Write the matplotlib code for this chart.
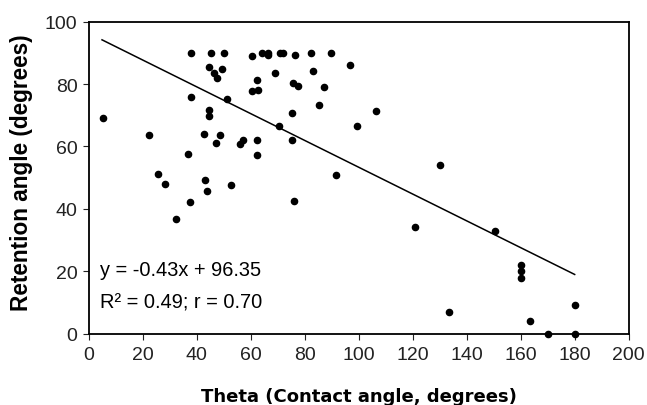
import matplotlib
matplotlib.use("Agg")
import matplotlib.pyplot as plt
import numpy as np

theta = [5.3, 22.5, 25.6, 28.4, 32.5, 36.7, 37.5, 38.0, 38.0, 42.8, 43.3, 44.0,
         44.7, 44.6, 44.7, 45.5, 46.6, 47.5, 47.1, 48.7, 49.3, 50.1, 51.4, 52.8,
         56.2, 57.3, 60.4, 60.7, 62.4, 62.7, 62.4, 62.4, 64.1, 66.6, 66.6, 69.0,
         70.7, 70.9, 71.9, 75.3, 75.5, 75.7, 76.1, 76.4, 77.5, 82.5, 83.0, 85.3,
         87.1, 89.9, 91.7, 96.7, 99.4, 106.5, 120.7, 130.1, 133.5, 150.6, 160.1,
         160.1, 160.1, 163.6, 170.2, 180.2, 180.0]
retention = [69.2, 63.6, 51.3, 48.0, 36.8, 57.6, 42.3, 90.0, 76.0, 64.0, 49.2, 45.7,
             71.6, 69.9, 85.5, 90.0, 83.5, 81.9, 61.2, 63.6, 84.9, 90.0, 75.1, 47.6,
             60.8, 62.0, 88.9, 77.9, 81.4, 78.1, 62.0, 57.2, 90.0, 90.0, 89.2, 83.5,
             66.7, 90.0, 90.0, 70.7, 62.2, 80.2, 42.4, 89.2, 79.4, 90.0, 84.1, 73.2,
             79.0, 90.0, 50.9, 86.0, 66.7, 71.4, 34.2, 54.0, 7.0, 33.0, 22.0,
             19.9, 17.8, 4.1, 0.0, 9.0, 0.0]
slope = -0.43
intercept = 96.35
fit_x = [5, 180]
x_ticks = list(range(0, 201, 20))
y_ticks = list(range(0, 101, 20))

plt.rcParams['font.family'] = ['Liberation Sans', 'DejaVu Sans']

fig = plt.figure(figsize=(6.47, 4.06), dpi=100)
ax = fig.add_axes([0.1368, 0.176, 0.8349, 0.768])

ax.scatter(theta, retention, s=20, color='black', zorder=3, clip_on=False)
fx = np.array(fit_x)
ax.plot(fx, slope * fx + intercept, color='black', lw=1.1)

ax.set_xlim(0, 200)
ax.set_ylim(0, 100)
ax.set_xticks(x_ticks)
ax.set_yticks(y_ticks)
ax.tick_params(axis='both', labelsize=14, direction='out', length=4, width=0.8,
               colors='#222222')
ax.tick_params(axis='x', pad=5)
ax.tick_params(axis='y', pad=4)
for s in ax.spines.values():
    s.set_linewidth(1.3)

ax.set_xlabel('Theta (Contact angle, degrees)', fontsize=13, fontweight='bold',
              family='DejaVu Sans')
ax.xaxis.set_label_coords(0.5, -0.17)
ax.set_ylabel('Retention angle (degrees)', fontsize=16.3, fontweight='bold')
ax.yaxis.set_label_coords(-0.1027, 0.52)

ax.text(4.2, 18.8, 'y = -0.43x + 96.35', fontsize=14.4, va='baseline', ha='left')
ax.text(4.2, 8.4, 'R² = 0.49; r = 0.70', fontsize=14.4, va='baseline', ha='left')

fig.savefig('out.png', dpi=100)
